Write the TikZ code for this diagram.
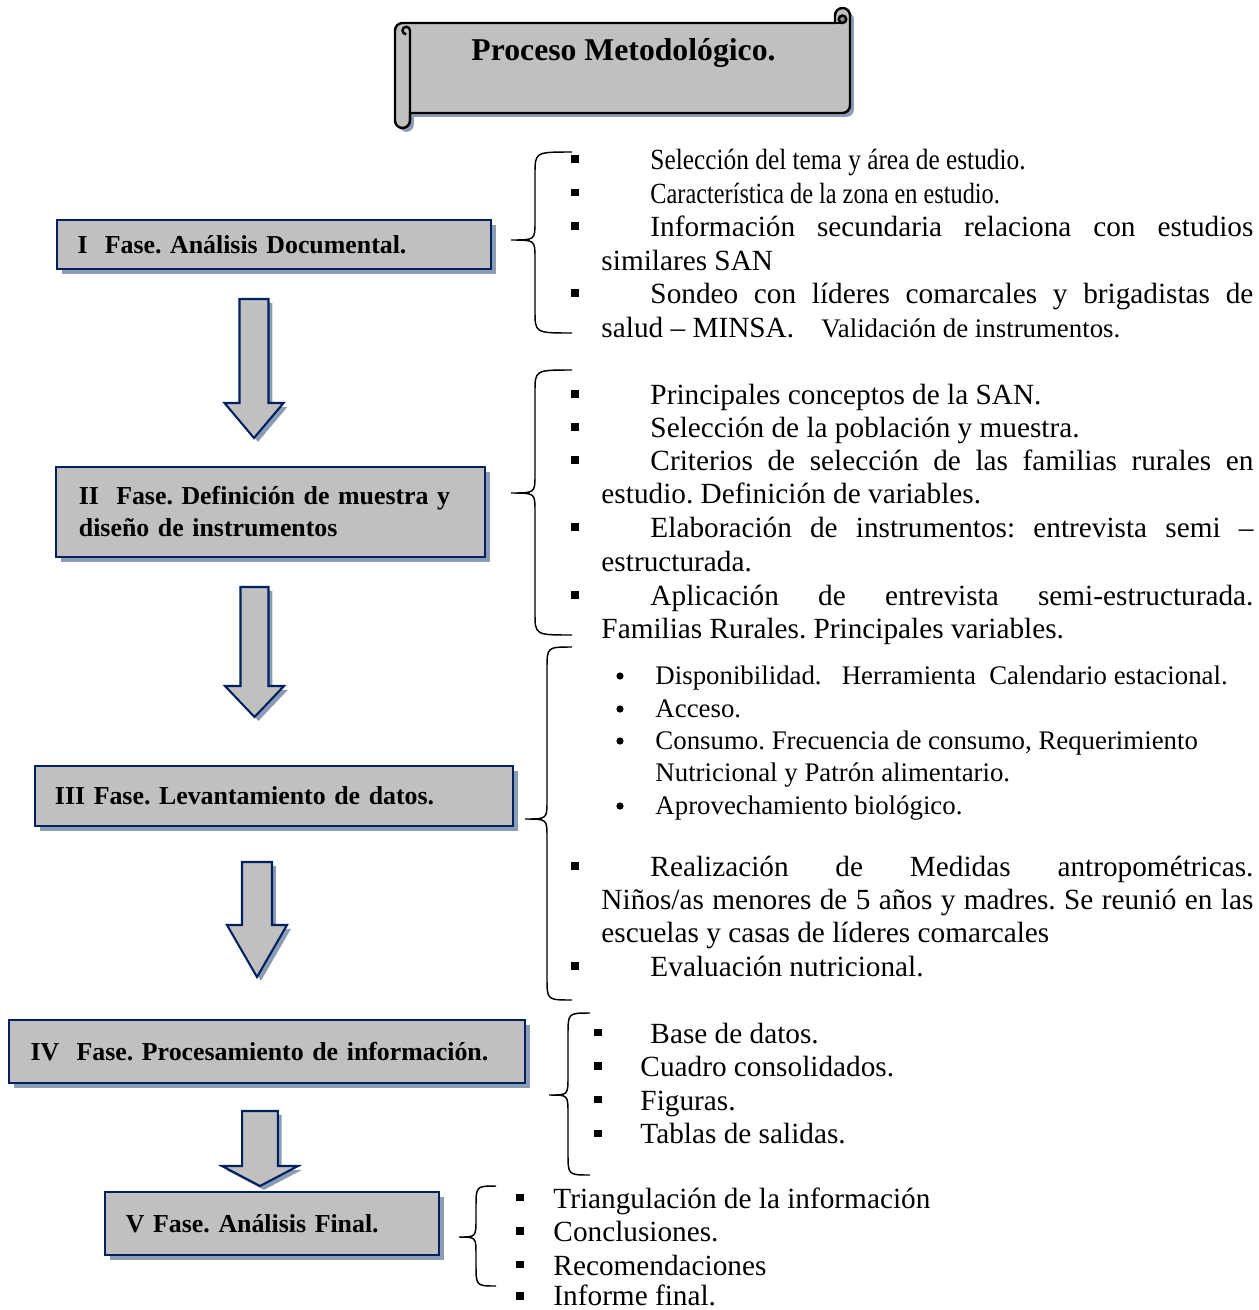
\documentclass[tikz,border=0pt]{standalone}
\usepackage{fontspec}
\setmainfont{Liberation Serif}
\usetikzlibrary{shadows}
\frenchspacing
\hyphenpenalty=10000
\exhyphenpenalty=10000

\definecolor{azulborde}{RGB}{0,32,96}
\definecolor{grisfondo}{RGB}{192,192,192}
\definecolor{grisrollo}{RGB}{140,140,140}
\definecolor{sombra}{RGB}{140,156,180}

% block arrow: x centre, y top, y head, y tip, half shaft, half head
\newcommand{\flecha}[6]{\draw[bloque] ({#1-#5},#2) -- ({#1+#5},#2) -- ({#1+#5},#3) -- ({#1+#6},#3) -- (#1,#4) -- ({#1-#6},#3) -- ({#1-#5},#3) -- cycle;}
% left brace: x tip, x line, x end, y top, y tip, y bottom
\newcommand{\llave}[6]{\draw[llave] (#3,#4) .. controls (#2,#4) .. (#2,{#4+22}) -- (#2,{#5-18}) .. controls (#2,#5) .. (#1,#5) .. controls (#2,#5) .. (#2,{#5+18}) -- (#2,{#6-22}) .. controls (#2,#6) .. (#3,#6);}
\newcommand{\cuadrito}[2]{\fill ({#1-3.6},{#2-3.6}) rectangle ({#1+3.6},{#2+3.6});}
\newcommand{\punto}[2]{\fill (#1,#2) circle[radius=3.6];}

\begin{document}
\begin{tikzpicture}[x=0.41pt,y=0.41pt,yscale=-1,
  fase/.style={draw=azulborde,line width=0.85pt,fill=grisfondo,inner ysep=0pt,align=left,
    font=\fontsize{10.6}{13.1}\bfseries\selectfont,
    drop shadow={shadow xshift=2pt,shadow yshift=-2pt,fill=sombra,opacity=1}},
  bloque/.style={draw=azulborde,line width=0.85pt,fill=grisfondo,line join=miter,
    drop shadow={shadow xshift=1.6pt,shadow yshift=-1.6pt,fill=sombra,opacity=1}},
  rollo/.style={draw=black,line width=1pt,fill=grisfondo},
  llave/.style={draw=black,line width=0.6pt},
  txt/.style={anchor=base west,inner sep=0pt,font=\fontsize{12}{13.8}\selectfont},
  txtp/.style={anchor=base west,inner sep=0pt,font=\fontsize{11}{12.6}\selectfont}]
\useasboundingbox (0,0) rectangle (1258,1310);

%Scroll
\draw[rollo,drop shadow={shadow xshift=1.6pt,shadow yshift=-1.6pt,fill=sombra,opacity=1}] (395,30.5) arc[start angle=180,end angle=270,radius=7.5] -- (835,23) -- (835,15.5) arc[start angle=180,end angle=360,radius=7.5] -- (850,105.5) arc[start angle=0,end angle=90,radius=7.5] -- (410,113) -- (410,120.5) arc[start angle=0,end angle=180,radius=7.5] -- cycle;
\draw[line width=1pt] (410,120.5) -- (410,30.5) arc[start angle=0,end angle=-180,radius=3.75] arc[start angle=180,end angle=90,radius=3.75];
\draw[line width=1pt,fill=grisrollo] (842.5,19.25) circle[radius=3.75];
\draw[line width=1pt] (835,23) -- (842.5,23);
\node[font=\fontsize{13}{15}\bfseries\selectfont] (titulo) at (623.5,53) {Proceso Metodológico.};

%Phases
\node[fase,text width=161.1pt,inner xsep=8.4pt,minimum height=20.1pt] (f1) at (274,244.5) {\mbox{I\ \ Fase. Análisis Documental.}};
\node[fase,text width=157.1pt,inner xsep=9.4pt,minimum height=36.9pt] (f2) at (270.5,512) {\mbox{II\ \ Fase. Definición de muestra y}\\diseño de instrumentos};
\node[fase,text width=179.6pt,inner xsep=8.2pt,minimum height=24.6pt] (f3) at (274,796) {\mbox{III Fase. Levantamiento de datos.}};
\node[fase,text width=193.8pt,inner xsep=8.9pt,minimum height=25.8pt] (f4) at (267,1051.5) {\mbox{IV\ \ Fase. Procesamiento de información.}};
\node[fase,text width=119.8pt,inner xsep=8.6pt,minimum height=25.8pt] (f5) at (272,1223.5) {\mbox{V Fase. Análisis Final.}};

%Block arrows
\flecha{254}{299}{403}{438}{14.5}{29.5}
\flecha{254.5}{587}{686}{717}{14}{29.5}
\flecha{257}{862}{925}{977}{15}{30}
\flecha{260}{1111}{1166}{1186}{17.8}{38}

%Braces
\llave{511}{535}{572}{152}{240}{333}
\llave{511}{535}{572}{370}{493}{635}
\llave{525}{547}{572}{647}{819}{1000}
\llave{549}{568}{590}{1013}{1095}{1175}
\llave{459}{476}{496}{1186}{1237}{1286}

%Text I
\cuadrito{575}{159}
\node[txt] (t11) at (650,169.5) {\scalebox{0.866}[1]{Selección del tema y área de estudio.}};
\cuadrito{575}{192.5}
\node[txt] (t12) at (650,203) {\scalebox{0.83}[1]{Característica de la zona en estudio.}};
\cuadrito{575}{226}
\node[txt] (t13) at (650,236.5) {\makebox[247.2pt][s]{Información secundaria relaciona con estudios}};
\node[txt] (t14) at (601,270) {similares SAN};
\cuadrito{575}{293}
\node[txt] (t15) at (650,303.5) {\makebox[247.2pt][s]{Sondeo con líderes comarcales y brigadistas de}};
\node[txt] (t16) at (601,337) {salud – MINSA.};
\node[txtp] (t17) at (821,337) {Validación de instrumentos.};

%Text II
\cuadrito{575}{394}
\node[txt] (t21) at (650,404.5) {Principales conceptos de la SAN.};
\cuadrito{575}{427}
\node[txt] (t22) at (650,437.5) {Selección de la población y muestra.};
\cuadrito{575}{460}
\node[txt] (t23) at (650,470.5) {\makebox[247.2pt][s]{Criterios de selección de las familias rurales en}};
\node[txt] (t24) at (601,503.5) {estudio. Definición de variables.};
\cuadrito{575}{527}
\node[txt] (t25) at (650,537.5) {\makebox[247.2pt][s]{Elaboración de instrumentos: entrevista semi –}};
\node[txt] (t26) at (601,571.5) {estructurada.};
\cuadrito{575}{595}
\node[txt] (t27) at (650,605.5) {\makebox[247.2pt][s]{Aplicación de entrevista semi-estructurada.}};
\node[txt] (t28) at (601,638.5) {Familias Rurales. Principales variables.};

%Text III
\punto{620}{676}
\node[txtp] (t31) at (655,684.5) {Disponibilidad.\ \ \ Herramienta\ \ Calendario estacional.};
\punto{620}{709}
\node[txtp] (t32) at (655,717.5) {Acceso.};
\punto{620}{741}
\node[txtp] (t33) at (655,749.5) {Consumo. Frecuencia de consumo, Requerimiento};
\node[txtp] (t34) at (655,781.5) {Nutricional y Patrón alimentario.};
\punto{620}{806}
\node[txtp] (t35) at (655,814.5) {Aprovechamiento biológico.};
\cuadrito{575}{866}
\node[txt] (t36) at (650,876.5) {\makebox[247.2pt][s]{Realización de Medidas antropométricas.}};
\node[txt] (t37) at (601,909.5) {\makebox[267.3pt][s]{Niños/as menores de 5 años y madres. Se reunió en las}};
\node[txt] (t38) at (601,942.5) {escuelas y casas de líderes comarcales};
\cuadrito{575}{966}
\node[txt] (t39) at (650,976.5) {Evaluación nutricional.};

%Text IV
\cuadrito{598}{1032.5}
\node[txt] (t41) at (650,1043) {Base de datos.};
\cuadrito{598}{1066}
\node[txt] (t42) at (640,1076.6) {Cuadro consolidados.};
\cuadrito{598}{1099.7}
\node[txt] (t43) at (640,1110.2) {Figuras.};
\cuadrito{598}{1133.3}
\node[txt] (t44) at (640,1143.8) {Tablas de salidas.};

%Text V
\cuadrito{520}{1197.5}
\node[txt] (t51) at (553,1208) {Triangulación de la información};
\cuadrito{520}{1231}
\node[txt] (t52) at (553,1241.5) {Conclusiones.};
\cuadrito{520}{1264.5}
\node[txt] (t53) at (553,1275) {Recomendaciones};
\cuadrito{520}{1296}
\node[txt] (t54) at (553,1305.5) {Informe final.};

\end{tikzpicture}
\end{document}
